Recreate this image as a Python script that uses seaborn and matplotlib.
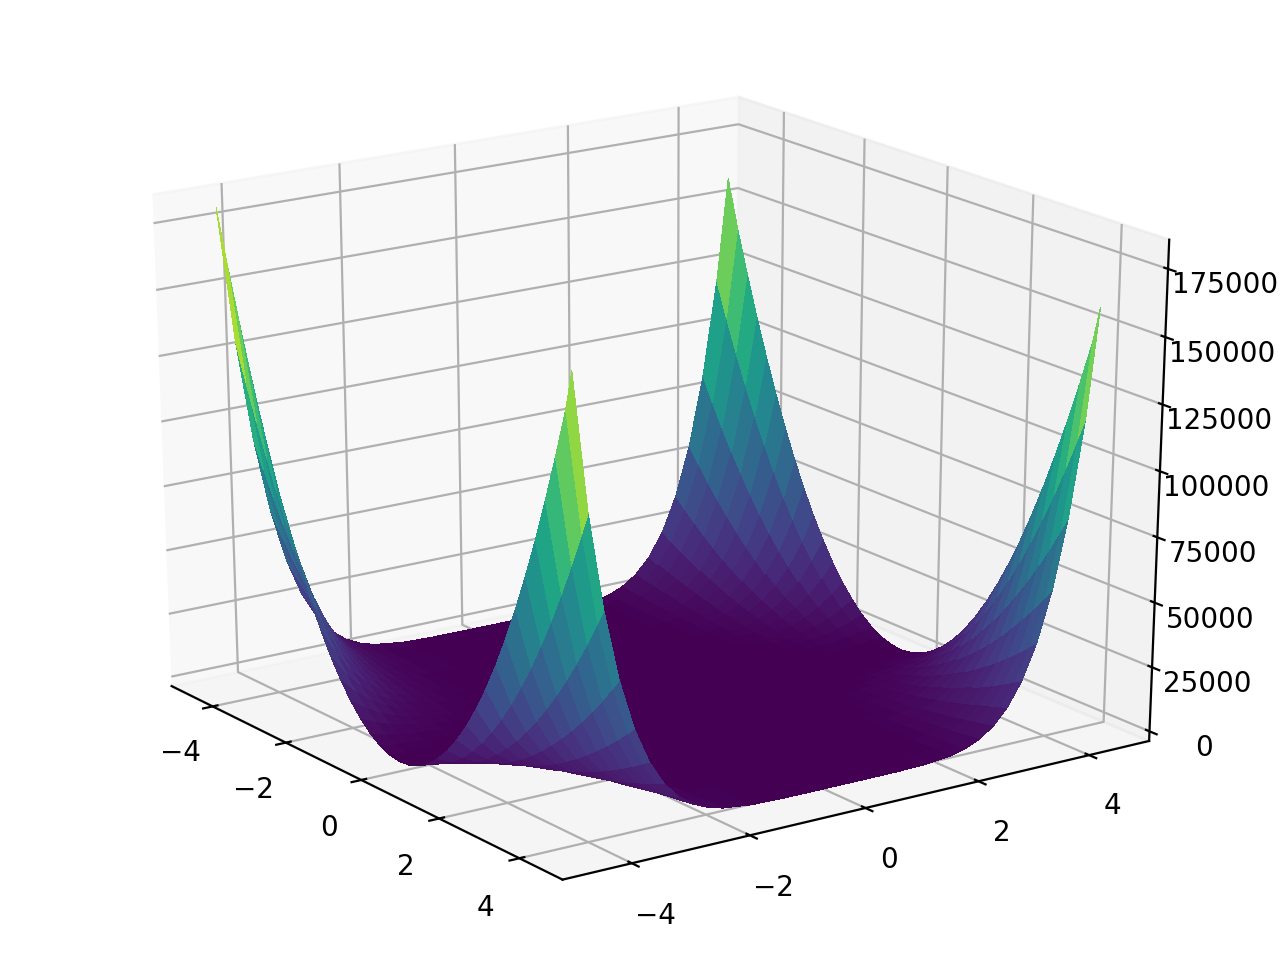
import matplotlib
matplotlib.use("Agg")
import matplotlib.pyplot as plt
import numpy as np
import seaborn as sns

# grid positions (rows only need to be dense where the surface climbs)
x_vals = [-4.5, -4.25, -4, -3.75, -3.5, -3.25, -3, -2.75, -2.5, -2.25, -2, -1.75, -1.5, -1.25, -1, -0.75, -0.5, -0.25, 0,
          0.25, 0.5, 0.75, 1, 1.25, 1.5, 1.75, 2, 2.25, 2.5, 2.75, 3, 3.25, 3.5, 3.75, 4, 4.25, 4.4]
y_vals = [-4.5, -4.25, -4, -3.75, -3.5, -3.25, -3, -2.75, -2.5, -2.25, -2, -1.5, -1, -0.5, 0, 0.5, 1, 1.5,
          2, 2.25, 2.5, 2.75, 3, 3.25, 3.5, 3.75, 4, 4.25, 4.45]

# surface heights, one row per y value, x going left to right
z_y_m450 = [181854,162308,143873,126550,110337,95236,81245,68365,56597,45939,36392,27957,20632,14418,9316,5323,2443,672,14,466,2029,4703,8488,13384,19392,26509,34738,44079,54529,66091,78763,92548,107443,123448,140565,158794,173300]
z_y_m425 = [130493,116479,103262,90841,79215,68386,58352,49113,40671,33024,26173,20119,14859,10395,6727,3855,1780,499,14,325,1432,3335,6033,9527,13817,18903,24785,31462,38935,47203,56268,66128,76785,88237,100484,113527,121736]
z_y_m400 = [91932,82071,72769,64027,55844,48219,41155,34652,28705,23319,18492,14224,10516,7367,4778,2748,1277,366,14,222,989,2314,4200,6645,9650,13214,17336,22019,27261,33064,39423,46343,53822,61861,70459,79617,85379]
z_y_m375 = [63465,56668,50254,44226,38583,33325,28452,23964,19862,16144,12811,9864,7301,5124,3333,1925,903,266,14,148,665,1569,2857,4530,6589,9032,11861,15074,18674,22658,27026,31781,36919,42444,48354,54648,58609]
z_y_m350 = [42838,38258,33936,29874,26070,22526,19240,16213,13446,10938,8687,6697,4966,3493,2279,1324,629,191,14,95,435,1034,1893,3009,4386,6021,7915,10068,12480,15151,18080,21270,24718,28424,32390,36616,39275]
z_y_m325 = [28203,25196,22357,19687,17188,14858,12698,10708,8887,7236,5754,4444,3302,2329,1527,894,431,138,14,60,275,662,1217,1941,2836,3900,5134,6538,8111,9854,11766,13850,16102,18523,21115,23876,25614]
z_y_m300 = [18064,16143,14330,12625,11029,9540,8159,6886,5722,4665,3716,2875,2143,1518,1001,592,292,99,14,37,169,408,755,1210,1774,2445,3224,4111,5107,6210,7421,8740,10168,11703,13346,15097,16200]
z_y_m275 = [11224,10036,8914,7859,6870,5947,5092,4303,3580,2924,2335,1812,1355,966,642,385,195,71,14,23,99,241,450,726,1067,1476,1951,2492,3100,3775,4516,5323,6196,7137,8144,9218,9894]
z_y_m250 = [6751,6040,5370,4739,4147,3595,3082,2609,2175,1782,1427,1112,836,601,404,248,130,53,14,15,56,136,256,415,614,852,1131,1448,1805,2201,2638,3113,3627,4183,4776,5410,5810]
z_y_m225 = [3925,3516,3130,2766,2424,2106,1809,1535,1284,1055,849,666,505,367,252,158,87,39,14,11,31,74,138,225,335,468,623,801,1002,1225,1469,1738,2028,2342,2678,3036,3261]
z_y_m200 = [2211,1984,1769,1566,1377,1199,1033,881,740,611,496,392,301,222,156,102,60,31,14,9,18,38,70,116,173,242,324,419,526,645,777,921,1077,1246,1427,1620,1743]
z_y_m150 = [672,607,544,486,431,380,332,286,244,206,172,140,112,87,66,48,33,22,14,10,9,10,16,25,38,54,72,94,120,150,181,218,257,300,346,395,427]
z_y_m100 = [250,229,208,189,170,153,136,120,105,92,79,68,57,47,39,31,24,19,14,11,8,7,5,6,7,10,13,18,23,30,36,45,54,65,76,89,96]
z_y_m050 = [159,147,134,123,112,102,92,83,73,66,58,50,44,37,32,26,22,17,14,11,8,6,4,3,2,2,2,4,5,7,10,12,16,19,24,29,32]
z_y_000 = [132,122,113,104,96,87,79,72,65,58,52,45,40,35,30,26,21,17,14,11,9,6,4,3,2,1,1,0,1,2,3,5,6,8,11,14,16]
z_y_050 = [89,83,77,72,66,62,56,52,48,43,39,36,32,28,25,22,19,16,14,12,10,8,6,4,4,2,2,1,0,0,0,0,0,0,2,3,3]
z_y_100 = [14,14,14,14,14,14,14,14,14,14,14,14,14,14,14,14,14,14,14,14,14,14,14,14,14,14,14,14,14,14,14,14,14,14,14,14,14]
z_y_150 = [77,66,55,46,36,29,22,16,12,8,5,3,2,2,2,3,6,9,14,19,26,33,41,50,60,71,83,96,110,124,140,157,174,192,211,232,244]
z_y_200 = [969,854,745,644,551,464,385,314,250,193,143,102,67,39,20,7,2,5,14,31,56,87,126,173,227,288,357,433,516,606,705,810,923,1044,1171,1306,1390]
z_y_225 = [2221,1965,1724,1499,1290,1096,918,756,611,480,365,266,183,115,63,28,8,3,14,41,84,142,217,307,413,534,671,824,993,1178,1378,1594,1826,2073,2336,2615,2791]
z_y_250 = [4477,3970,3493,3048,2632,2247,1892,1569,1275,1012,779,576,405,264,153,72,23,3,14,55,127,230,363,526,719,944,1199,1484,1799,2145,2522,2929,3366,3834,4333,4862,5194]
z_y_275 = [8260,7335,6467,5653,4894,4189,3540,2945,2405,1919,1489,1112,792,525,313,156,55,6,14,76,193,364,591,871,1208,1598,2043,2543,3099,3707,4372,5091,5866,6693,7577,8515,9104]
z_y_300 = [14277,12694,11204,9808,8503,7293,6174,5150,4218,3379,2633,1981,1420,954,579,299,111,16,14,106,289,567,937,1400,1956,2605,3347,4183,5110,6132,7246,8453,9754,11146,12632,14212,15203]
z_y_325 = [23451,20866,18432,16149,14016,12036,10206,8526,6998,5620,4393,3318,2393,1619,996,524,204,33,14,145,428,862,1446,2181,3067,4104,5293,6632,8122,9762,11554,13496,15590,17835,20230,22776,24376]
z_y_350 = [36961,32905,29083,25498,22148,19035,16157,13515,11108,8939,7003,5305,3841,2614,1622,867,347,63,14,201,625,1283,2178,3308,4675,6277,8115,10189,12498,15043,17825,20841,24094,27582,31307,35267,37756]
z_y_375 = [56296,50137,44333,38887,33798,29065,24689,20671,17008,13703,10755,8163,5929,4051,2530,1366,559,107,14,277,897,1874,3208,4897,6945,9349,12109,15227,18702,22533,26721,31267,36168,41427,47043,53015,56769]
z_y_400 = [83292,74200,65633,57592,50076,43084,36619,30679,25265,20376,16011,12173,8860,6072,3810,2073,861,175,14,379,1269,2683,4624,7090,10082,13599,17641,22208,27301,32919,39063,45732,52926,60646,68891,77662,83176]
z_y_425 = [120190,107093,94752,83166,72336,62261,52941,44376,36567,29513,23214,17670,12883,8850,5572,3050,1283,271,14,513,1767,3776,6540,10060,14335,19366,25152,31693,38989,47040,55847,65409,75726,86798,98626,111209,119122]
z_y_445 = [159700,141364,125093,109817,95536,82249,69957,58658,48355,39046,30731,23411,17085,11755,7418,4075,1727,373,14,649,2279,4903,8522,13135,18743,25345,32941,41532,51117,61696,73271,85839,99402,113959,129511,146058,159900]

z_rows = [z_y_m450, z_y_m425, z_y_m400, z_y_m375, z_y_m350, z_y_m325, z_y_m300, z_y_m275, z_y_m250, z_y_m225, z_y_m200,
          z_y_m150, z_y_m100, z_y_m050, z_y_000, z_y_050, z_y_100, z_y_150,
          z_y_200, z_y_225, z_y_250, z_y_275, z_y_300, z_y_325, z_y_350, z_y_375, z_y_400, z_y_425, z_y_445]

X, Y = np.meshgrid(x_vals, y_vals)
Z = np.array(z_rows, dtype=float)

cmap = sns.color_palette("viridis", as_cmap=True)

fig = plt.figure(figsize=(6.4, 4.8), dpi=200)
ax = fig.add_axes([-0.002, -0.003, 1, 1], projection="3d")
ax.apply_aspect = lambda position=None: None  # let the box fill the whole figure
ax.plot_surface(X, Y, Z, rstride=1, cstride=1, cmap=cmap, vmin=0, vmax=170000,
                linewidth=0, antialiased=False)
ax.view_init(elev=22.4, azim=-35)
ax.set_box_aspect((1, 1, 1), zoom=0.94)

plt.savefig("out.png", dpi=200)
